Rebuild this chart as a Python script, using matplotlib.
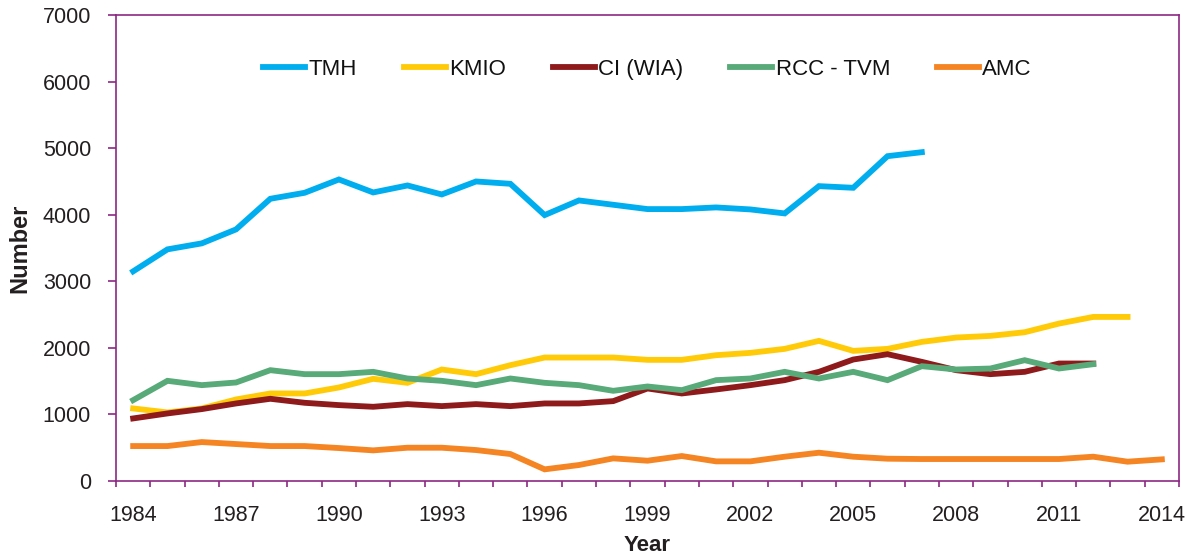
import matplotlib
matplotlib.use("Agg")
import matplotlib.pyplot as plt
from matplotlib.ticker import FixedLocator

plt.rcParams['font.family'] = ['Liberation Sans', 'DejaVu Sans']

years = list(range(1984, 2015))

tmh_years = list(range(1984, 2008))
tmh = [3150, 3480, 3570, 3780, 4240, 4330, 4530, 4335, 4440, 4305, 4500, 4465,
       3995, 4215, 4150, 4085, 4085, 4110, 4080, 4020, 4430, 4405, 4880, 4940]

kmio_years = list(range(1984, 2014))
kmio = [1090, 1030, 1090, 1225, 1315, 1315, 1405, 1535, 1475, 1675, 1605, 1740,
        1855, 1855, 1855, 1820, 1820, 1890, 1925, 1985, 2105, 1955, 1985, 2090,
        2155, 2180, 2235, 2365, 2465, 2465]

ci_years = list(range(1984, 2013))
ci = [940, 1015, 1080, 1165, 1235, 1175, 1140, 1115, 1155, 1125, 1155, 1125,
      1165, 1165, 1200, 1390, 1315, 1375, 1440, 1515, 1640, 1825, 1905, 1790,
      1665, 1605, 1640, 1765, 1765]

rcc_years = list(range(1984, 2013))
rcc = [1215, 1505, 1440, 1480, 1665, 1605, 1605, 1640, 1540, 1505, 1440, 1540,
       1475, 1440, 1355, 1420, 1365, 1515, 1540, 1640, 1540, 1640, 1515, 1725,
       1675, 1690, 1815, 1690, 1755]

amc_years = list(range(1984, 2015))
amc = [525, 525, 585, 555, 525, 525, 495, 460, 500, 500, 465, 405, 175, 240,
       340, 305, 375, 295, 295, 365, 425, 365, 335, 330, 330, 330, 330, 330,
       365, 290, 325]

series_names = ['TMH', 'KMIO', 'CI (WIA)', 'RCC - TVM', 'AMC']
colors = ['#00AEEF', '#FFCB08', '#8E1A1C', '#58AA78', '#F58423']

xlabels = list(range(1984, 2015, 3))
yticks = list(range(0, 7001, 1000))

spine_col = '#8C2784'
text_col = '#231F20'

fig = plt.figure(figsize=(11.95, 5.58), dpi=100)
ax = fig.add_axes([0.0971, 0.138, 0.8895, 0.835])

data = [(tmh_years, tmh), (kmio_years, kmio), (ci_years, ci),
        (rcc_years, rcc), (amc_years, amc)]
for (xs, ys), name, c in zip(data, series_names, colors):
    ax.plot(xs, ys, color=c, lw=4.2, label=name, solid_joinstyle='miter')

ax.set_xlim(years[0] - 0.5, years[-1] + 0.5)
ax.set_ylim(0, 7000)

bounds = [y - 0.5 for y in years] + [years[-1] + 0.5]
ax.xaxis.set_major_locator(FixedLocator(bounds))
ax.xaxis.set_minor_locator(FixedLocator(xlabels))
ax.set_xticklabels([], minor=False)
ax.set_xticklabels([str(v) for v in xlabels], minor=True)
ax.tick_params(axis='x', which='major', direction='out', length=4.5, width=1.2,
               color=spine_col)
ax.tick_params(axis='x', which='minor', length=0, pad=17, labelsize=15.5,
               labelcolor=text_col)
ax.set_yticks(yticks)
ax.set_yticklabels([str(v) for v in yticks])
ax.tick_params(axis='y', direction='out', length=6, width=1.2, color=spine_col,
               pad=12, labelsize=15.5, labelcolor=text_col)

for s in ax.spines.values():
    s.set_color(spine_col)
    s.set_linewidth(1.2)

ax.set_xlabel('Year', fontsize=16, fontweight='bold', color=text_col, labelpad=7)
ax.set_ylabel('Number', fontsize=17, fontweight='bold', color=text_col, labelpad=8)

leg = ax.legend(loc='center', bbox_to_anchor=(0.5, 0.884), ncol=5, frameon=False,
                fontsize=16, handlelength=1.9, handletextpad=0.15,
                columnspacing=2.1)
for t in leg.get_texts():
    t.set_color('#111111')

fig.savefig('out.png', dpi=100)
